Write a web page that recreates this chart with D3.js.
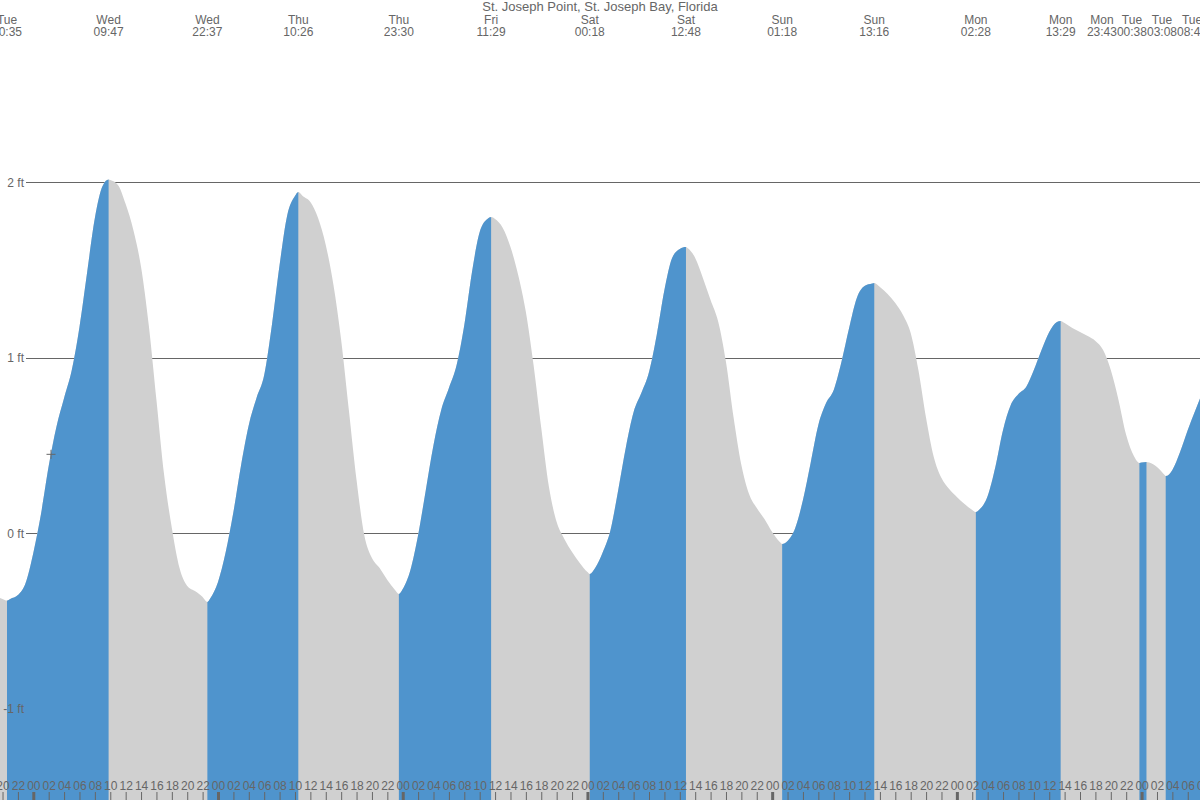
<!DOCTYPE html>
<html>
<head>
<meta charset="utf-8">
<script src="https://cdn.jsdelivr.net/npm/d3@7"></script>
<style>
  html, body { margin: 0; padding: 0; background: #ffffff; overflow: hidden; }
  svg text { font-family: "Liberation Sans", Arial, sans-serif; font-size: 12px; fill: #666; }
</style>
</head>
<body>
<svg id="chart" width="1200" height="800"></svg>
<script>
// ---------------- DATA ----------------
const title = "St. Joseph Point, St. Joseph Bay, Florida";

// Hourly readings, hours counted from Wed 00:00 (first reading at Tue 19:00)
const firstReadingHour = -5;
const hourlyHeights = [
  -0.357, -0.374, -0.374, -0.352, -0.283,            // Tue 19..23
  -0.112, 0.110, 0.383, 0.606, 0.771, 0.930, 1.176, 1.489, 1.797, 1.979, 2.013, 1.985, // Wed 00..11
  1.876, 1.728, 1.517, 1.187, 0.760, 0.332, 0.030, -0.198, -0.300, -0.329, -0.363, -0.370, // Wed 12..23
  -0.277, -0.107, 0.121, 0.389, 0.617, 0.771, 0.902, 1.187, 1.529, 1.814, 1.922, 1.922, // Thu 00..11
  1.888, 1.797, 1.643, 1.415, 1.101, 0.703, 0.304, -0.010, -0.141, -0.198, -0.266, -0.323, // Thu 12..23
  -0.318, -0.209, -0.010, 0.247, 0.503, 0.703, 0.828, 0.959, 1.187, 1.489, 1.717, 1.791, // Fri 00..11
  1.791, 1.740, 1.631, 1.472, 1.261, 0.959, 0.600, 0.264, 0.064, -0.032, -0.107, -0.169, // Fri 12..23
  -0.221, -0.198, -0.107, 0.019, 0.247, 0.492, 0.691, 0.799, 0.919, 1.130, 1.386, 1.569, // Sat 00..11
  1.620, 1.626, 1.569, 1.455, 1.329, 1.204, 0.976, 0.657, 0.389, 0.224, 0.144, 0.081,    // Sat 12..23
  0.007, -0.050, -0.044, 0.030, 0.190, 0.401, 0.617, 0.742, 0.817, 0.976, 1.170, 1.341,  // Sun 00..11
  1.409, 1.423, 1.403, 1.364, 1.312, 1.244, 1.141, 0.930, 0.657, 0.435, 0.315, 0.252,    // Sun 12..23
  0.207, 0.167, 0.133, 0.138, 0.213, 0.378, 0.589, 0.731, 0.794, 0.834, 0.930, 1.044,    // Mon 00..11
  1.147, 1.204, 1.198, 1.170, 1.147, 1.124, 1.096, 1.044, 0.930, 0.760, 0.560, 0.440,    // Mon 12..23
  0.403, 0.403, 0.378, 0.332, 0.361, 0.463, 0.589, 0.703, 0.805                          // Tue 00..08
];

// High / low tide events
const extremeDays    = ["Tue", "Wed", "Wed", "Thu", "Thu", "Fri", "Sat", "Sat", "Sun", "Sun", "Mon", "Mon", "Mon", "Tue", "Tue", "Tue"];
const extremeTimes   = ["20:35", "09:47", "22:37", "10:26", "23:30", "11:29", "00:18", "12:48", "01:18", "13:16", "02:28", "13:29", "23:43", "00:38", "03:08", "08:45"];
const extremeHeights = [-0.383, 2.016, -0.391, 1.945, -0.346, 1.802, -0.232, 1.631, -0.061, 1.426, 0.121, 1.210, 0.401, 0.406, 0.326, 0.845];
const extremeTypes   = ["low", "high", "low", "high", "low", "high", "low", "high", "low", "high", "low", "high", "low", "high", "low", "high"];

const yTickValues = [2, 1, 0, -1];
const markerHour = 2.3, markerHeight = 0.45;

// ---------------- SETUP ----------------
const W = 1200, H = 800;
const svg = d3.select("#chart");

const x = d3.scaleLinear().domain([-4.327, 151.59]).range([0, W]);
const y = d3.scaleLinear().domain([-1, 2]).range([708.8, 182.3]);

// event hours relative to Wed 00:00
let dayIdx = -1, prevDay = extremeDays[0];
const extremes = extremeDays.map((d, i) => {
  if (d !== prevDay) { dayIdx++; prevDay = d; }
  const [hh, mm] = extremeTimes[i].split(":").map(Number);
  return { day: d, time: extremeTimes[i], hour: dayIdx * 24 + hh + mm / 60, v: extremeHeights[i], type: extremeTypes[i] };
});

const series = hourlyHeights.map((v, i) => ({ h: firstReadingHour + i, v }))
  .concat(extremes.map(e => ({ h: e.hour, v: e.v })))
  .sort((a, b) => a.h - b.h);

// ---------------- GRID ----------------
svg.append("g").selectAll("line").data(yTickValues).join("line")
  .attr("x1", 26).attr("x2", W)
  .attr("y1", d => Math.round(y(d)) + 0.5).attr("y2", d => Math.round(y(d)) + 0.5)
  .attr("stroke", "#666").attr("stroke-width", 1);

// ---------------- TIDE AREA ----------------
const area = d3.area()
  .x(d => x(d.h)).y0(H).y1(d => y(d.v))
  .curve(d3.curveMonotoneX);

svg.append("defs").append("clipPath").attr("id", "tideClip")
  .append("path").attr("d", area(series));

svg.append("path").attr("d", area(series)).attr("fill", "#d0d0d0");

const rising = [];
for (let i = 0; i < extremes.length - 1; i++) {
  if (extremes[i].type === "low") rising.push([extremes[i].hour, extremes[i + 1].hour]);
}
svg.append("g").attr("clip-path", "url(#tideClip)")
  .selectAll("rect").data(rising).join("rect")
  .attr("x", d => x(d[0])).attr("width", d => x(d[1]) - x(d[0]))
  .attr("y", 0).attr("height", H)
  .attr("fill", "#4f94cd");

// ---------------- Y LABELS ----------------
const yAxis = svg.append("g").attr("transform", "translate(26,0)")
  .call(d3.axisLeft(y).tickValues(yTickValues).tickSize(0).tickPadding(2).tickFormat(d => d + " ft"));
yAxis.select(".domain").remove();
yAxis.selectAll("text").style("font-family", "'Liberation Sans', Arial, sans-serif").style("font-size", "12px").attr("fill", "#666");

// marker
svg.append("path")
  .attr("transform", `translate(${x(markerHour)},${y(markerHeight)})`)
  .attr("d", "M-4.5,0H4.5M0,-4.5V4.5")
  .attr("stroke", "#666").attr("stroke-width", 1).attr("fill", "none");

// ---------------- BOTTOM HOUR AXIS ----------------
const hourTicks = d3.range(-4, 154, 2);
const xAxis = svg.append("g").attr("transform", `translate(0,${H})`)
  .call(d3.axisTop(x).tickValues(hourTicks).tickSize(8).tickPadding(2)
    .tickFormat(h => String(((h % 24) + 24) % 24).padStart(2, "0")));
xAxis.select(".domain").remove();
xAxis.selectAll("line").attr("stroke", "#666")
  .attr("stroke-width", d => (((d % 24) + 24) % 24 === 0 ? 3 : 1));
xAxis.selectAll("text").style("font-family", "'Liberation Sans', Arial, sans-serif").style("font-size", "12px").attr("fill", "#666");

// ---------------- HEADER ----------------
svg.append("text").attr("x", W / 2).attr("y", 11).attr("text-anchor", "middle")
  .style("font-size", "13px").text(title);

const hdr = svg.append("g");
const lbls = extremes.map(e => {
  const g = hdr.append("g");
  const t1 = g.append("text").attr("y", 24).attr("text-anchor", "middle").text(e.day);
  const t2 = g.append("text").attr("y", 36).attr("text-anchor", "middle").text(e.time);
  const w = Math.max(t1.node().getComputedTextLength(), t2.node().getComputedTextLength());
  return { g, w, ideal: x(e.hour) };
});
const maxCenter = W - 8;
for (let i = lbls.length - 1; i >= 0; i--) {
  let p = Math.min(lbls[i].ideal, maxCenter);
  if (i < lbls.length - 1) p = Math.min(p, lbls[i + 1].pos - (lbls[i].w + lbls[i + 1].w) / 2);
  lbls[i].pos = p;
}
lbls.forEach(l => l.g.attr("transform", `translate(${l.pos},0)`));
</script>
</body>
</html>
